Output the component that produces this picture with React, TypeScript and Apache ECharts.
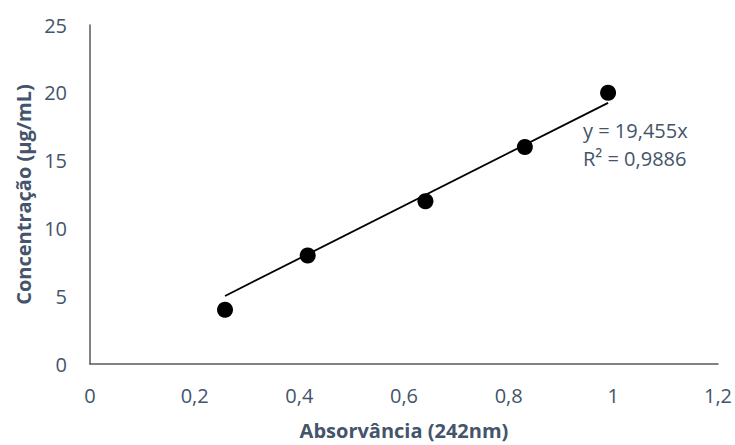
import React, { useEffect, useRef } from "react";
import * as echarts from "echarts";

// Calibration points: absorbance (242 nm) vs concentration (µg/mL)
const absorbance = [0.258, 0.416, 0.641, 0.831, 0.99];
const concentration = [4, 8, 12, 16, 20];

// Linear fit through the origin
const slope = 19.455;
const rSquared = "0,9886";
const equationText = "y = 19,455x";

const xTicks = { min: 0, max: 1.2, interval: 0.2 };
const yTicks = { min: 0, max: 25, interval: 5 };

const TEXT_COLOR = "#44546a";
const AXIS_COLOR = "#595959";
const FONT = "'Open Sans', 'Noto Sans', sans-serif";

const fmt = (v: number) => String(Number(v.toFixed(1))).replace(".", ",");

export default function App() {
  const ref = useRef<HTMLDivElement>(null);

  useEffect(() => {
    document.body.style.margin = "0";
    if (!ref.current) return;
    const chart = echarts.init(ref.current, undefined, { renderer: "svg" });

    const xs = [Math.min(...absorbance), Math.max(...absorbance)];
    const trend = xs.map((x) => [x, slope * x]);

    chart.setOption({
      animation: false,
      backgroundColor: "#ffffff",
      textStyle: { fontFamily: FONT },
      grid: { left: 90, right: 17, top: 25, bottom: 81 },
      xAxis: {
        type: "value",
        min: xTicks.min,
        max: xTicks.max,
        interval: xTicks.interval,
        name: "Absorvância (242nm)",
        nameLocation: "middle",
        nameGap: 56,
        nameTextStyle: { color: TEXT_COLOR, fontSize: 20, fontWeight: "bold", fontFamily: FONT },
        axisLine: { show: true, lineStyle: { color: AXIS_COLOR, width: 1.5 } },
        axisTick: { show: false },
        splitLine: { show: false },
        axisLabel: { color: TEXT_COLOR, fontSize: 20, margin: 21, formatter: fmt, fontFamily: FONT },
      },
      yAxis: {
        type: "value",
        min: yTicks.min,
        max: yTicks.max,
        interval: yTicks.interval,
        name: "Concentração (µg/mL)",
        nameLocation: "middle",
        nameGap: 57,
        nameTextStyle: { color: TEXT_COLOR, fontSize: 20, fontWeight: "bold", fontFamily: FONT },
        axisLine: { show: true, lineStyle: { color: AXIS_COLOR, width: 1.5 } },
        axisTick: { show: false },
        splitLine: { show: false },
        axisLabel: { color: TEXT_COLOR, fontSize: 20, margin: 23, formatter: fmt, fontFamily: FONT },
      },
      series: [
        {
          name: "Linear",
          type: "line",
          data: trend,
          symbol: "none",
          lineStyle: { color: "#000000", width: 1.8 },
          z: 2,
        },
        {
          name: "Concentração",
          type: "scatter",
          data: absorbance.map((x, i) => [x, concentration[i]]),
          symbol: "circle",
          symbolSize: 16,
          itemStyle: { color: "#000000", opacity: 1 },
          z: 3,
        },
      ],
      graphic: [
        {
          type: "text",
          left: 583,
          top: 116,
          style: {
            text: equationText + "\nR² = " + rSquared,
            fill: TEXT_COLOR,
            fontSize: 20,
            lineHeight: 28,
            fontFamily: FONT,
          },
        },
      ],
    });

    return () => chart.dispose();
  }, []);

  return <div ref={ref} style={{ width: 735, height: 445 }} />;
}
